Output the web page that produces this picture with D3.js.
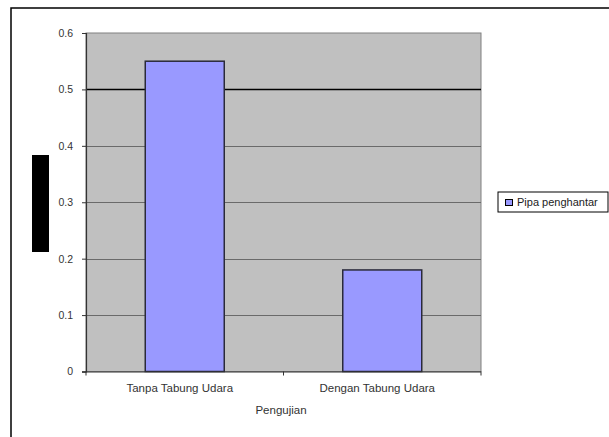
<!DOCTYPE html>
<html><head><meta charset="utf-8">
<script src="https://cdn.jsdelivr.net/npm/d3@7"></script>
<style>body{margin:0;background:#fff;}svg{display:block;font-family:"Liberation Sans",Arial,sans-serif;}</style>
</head><body>
<script>
const categories = ["Tanpa Tabung Udara", "Dengan Tabung Udara"];
const seriesName = "Pipa penghantar";
const values = [0.55, 0.18];
const yTicks = [0, 0.1, 0.2, 0.3, 0.4, 0.5, 0.6];
const xTitle = "Pengujian";

const W = 609, H = 437;
const svg = d3.select("body").append("svg").attr("width", W).attr("height", H);
svg.append("rect").attr("x",0).attr("y",0).attr("width",W).attr("height",H).attr("fill","#fff");
// outer chart border
svg.append("rect").attr("x",11).attr("y",8).attr("width",610).attr("height",440)
  .attr("fill","#fff").attr("stroke","#000").attr("stroke-width",1.5);

const L = 86, R = 481, T = 33, B = 371.5;
const x = d3.scaleBand().domain(categories).range([L, R]).paddingInner(0.6).paddingOuter(0.3);
const y = d3.scaleLinear().domain([0, 0.6]).range([B, T]);

svg.append("rect").attr("x",L).attr("y",T).attr("width",R-L).attr("height",B-T)
  .attr("fill","#c0c0c0").attr("stroke","#808080").attr("stroke-width",1);

// gridlines
svg.append("g").selectAll("line").data(yTicks.filter(d => d > 0 && d < 0.6)).join("line")
  .attr("x1", L).attr("x2", R)
  .attr("y1", d => Math.round(y(d)) + 0.5).attr("y2", d => Math.round(y(d)) + 0.5)
  .attr("stroke", d => d === 0.5 ? "#000" : "#6a6a6a").attr("stroke-width", d => d === 0.5 ? 1.4 : 1.2);

// bars
svg.append("g").selectAll("rect").data(values).join("rect")
  .attr("x", (d,i) => x(categories[i]))
  .attr("width", x.bandwidth())
  .attr("y", d => y(d))
  .attr("height", d => B - y(d))
  .attr("fill", "#9999ff").attr("stroke", "#2a2a3a").attr("stroke-width", 1.5);

// y axis
const yAxis = d3.axisLeft(y).tickValues(yTicks).tickSize(4).tickPadding(9)
  .tickFormat(d => d === 0 ? "0" : d3.format(".1f")(d));
const gy = svg.append("g").attr("transform", `translate(${L},0)`).call(yAxis);
gy.select(".domain").attr("stroke","#333").attr("stroke-width",1.2);
gy.selectAll(".tick line").attr("stroke","#333");
gy.selectAll("text").attr("font-size", 10.5).attr("fill","#333").attr("font-family","Liberation Sans, Arial, sans-serif");

// x axis
const xAxis = d3.axisBottom(x).tickSize(0).tickPadding(12);
const gx = svg.append("g").attr("transform", `translate(0,${B})`).call(xAxis);
gx.select(".domain").attr("stroke","#333").attr("stroke-width",1.2).attr("d", `M${L-4},0.5H${R}`);
gx.selectAll("text").attr("font-size", 11.5).attr("fill","#333").attr("dx", -5).attr("font-family","Liberation Sans, Arial, sans-serif");
// category boundary tick marks
const bounds = [L, (L+R)/2, R];
gx.append("g").selectAll("line").data(bounds).join("line")
  .attr("x1", d => d).attr("x2", d => d).attr("y1", 0).attr("y2", 4)
  .attr("stroke","#333");

svg.append("text").attr("x", 281).attr("y", 414).attr("text-anchor","middle")
  .attr("font-size", 11.5).attr("fill","#333").text(xTitle);

// censored y axis title block
svg.append("rect").attr("x", 32).attr("y", 155).attr("width", 17).attr("height", 97).attr("fill","#000");

// legend
const lg = svg.append("g");
lg.append("rect").attr("x", 498).attr("y", 192).attr("width", 110).attr("height", 20)
  .attr("fill","#fff").attr("stroke","#000").attr("stroke-width",1);
lg.append("rect").attr("x", 505.5).attr("y", 199.5).attr("width", 7).attr("height", 6)
  .attr("fill","#9999ff").attr("stroke","#000").attr("stroke-width",1);
lg.append("text").attr("x", 517).attr("y", 206).attr("font-size", 11).attr("fill","#222").text(seriesName);
</script>
</body></html>
